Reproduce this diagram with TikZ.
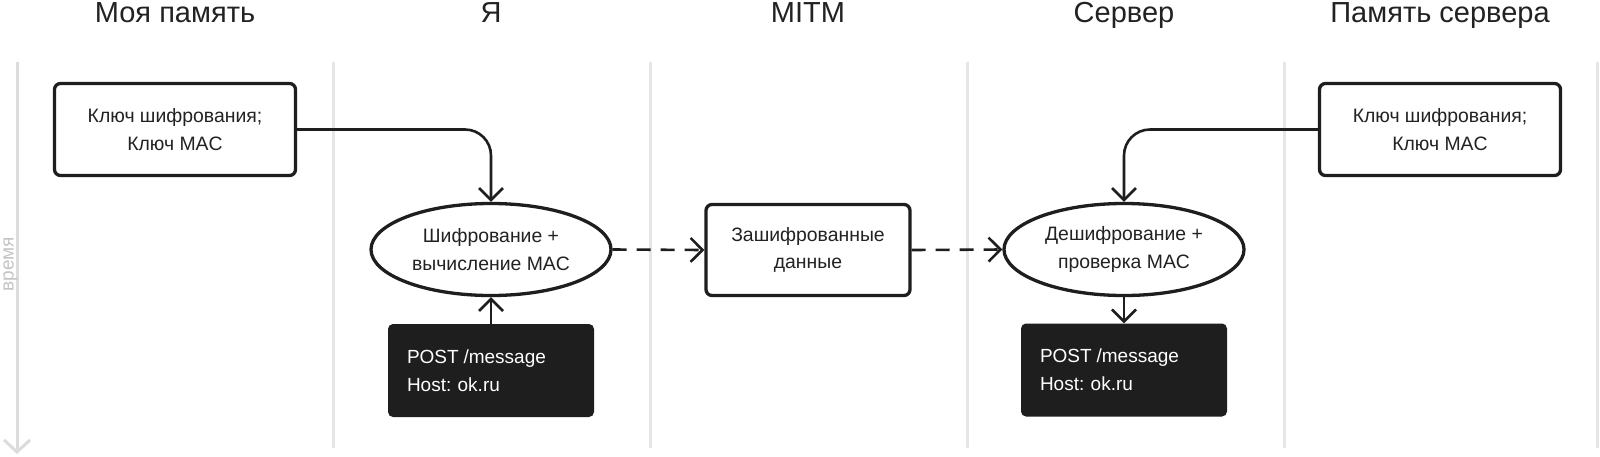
\documentclass[tikz,border=0pt]{standalone}
\usepackage{fontspec}
\setmainfont{Liberation Sans}
\usetikzlibrary{arrows.meta,shapes.geometric}
\definecolor{ink}{HTML}{1E1E1E}
\definecolor{txt}{HTML}{222222}
\definecolor{laneg}{HTML}{E6E6E6}
\definecolor{timeg}{HTML}{DCDCDC}
\definecolor{timetxt}{HTML}{C4C4C4}
\definecolor{blk}{HTML}{1E1E1E}
\newcommand{\bodyfont}{\fontsize{19.4}{27.5}\selectfont\frenchspacing}
\begin{document}
\begin{tikzpicture}[x=1pt,y=-1pt,
  lane/.style={draw=laneg, line width=3pt},
  hdr/.style={font=\fontsize{29}{34}\selectfont, text=txt, anchor=base, inner sep=0pt},
  keybox/.style={draw=ink, line width=3.3pt, rounded corners=6pt, minimum width=241pt, minimum height=92pt, align=center, font=\bodyfont, text=txt, inner sep=0pt},
  databox/.style={keybox, minimum width=204pt, minimum height=91pt},
  proc/.style={ellipse, draw=ink, line width=3.3pt, minimum width=240pt, minimum height=92pt, align=center, font=\bodyfont, text=txt, inner sep=0pt},
  msg/.style={fill=blk, rounded corners=5pt, minimum width=206pt, minimum height=93pt, text width=168pt, inner xsep=19pt, inner ysep=0pt, align=left, text=white, font=\fontsize{19}{28}\selectfont\frenchspacing},
  conn/.style={draw=ink, line width=2.6pt, -{Straight Barb[length=12pt,width=24pt]}},
  dconn/.style={conn, dash pattern=on 14pt off 10pt}
]
\useasboundingbox (0,0) rectangle (1600,456);
\fill[white] (0,0) rectangle (1600,456);

% lanes
\foreach \lx/\nm in {333/l1,650/l2,967/l3,1284/l4,1597/l5}{
  \coordinate (\nm t) at (\lx,62);
  \coordinate (\nm b) at (\lx,448);
  \draw[lane] (\nm t) -- (\nm b);
}
\coordinate (tt) at (17,62);
\coordinate (tb) at (17,454);
\draw[draw=timeg, line width=3pt, -{Straight Barb[length=12pt,width=26pt]}] (tt) -- (tb);
\node[rotate=90, anchor=base, inner sep=0pt, text=timetxt, font=\fontsize{19}{24}\selectfont] (time) at (13.5,264) {время};

% headers
\node[hdr] (h1) at (175,22) {Моя память};
\node[hdr] (h2) at (491,22) {Я};
\node[hdr] (h3) at (808,22) {MITM};
\node[hdr] (h4) at (1124,22) {Сервер};
\node[hdr] (h5) at (1440,22) {Память сервера};

% nodes
\node[keybox] (k1) at (175,129.5) {Ключ шифрования;\\Ключ MAC};
\node[keybox] (k2) at (1440,129.5) {Ключ шифрования;\\Ключ MAC};
\node[proc] (e1) at (491,249.5) {Шифрование +\\вычисление MAC};
\node[databox] (d) at (808,250) {Зашифрованные\\данные};
\node[proc] (e2) at (1124,249.5) {Дешифрование +\\проверка MAC};
\node[msg] (m1) at (491,370.5) {POST\kern-1.5pt{} /message\\Host: ok.ru};
\node[msg] (m2) at (1124,370) {POST\kern-1.5pt{} /message\\Host: ok.ru};

% connectors
\draw[conn, rounded corners=26pt] (k1.east) -| (e1.north);
\draw[conn, rounded corners=26pt] (k2.west) -| (e2.north);
\draw[dconn] (e1.east) -- (d.west);
\draw[dconn] (d.east) -- (e2.west);
\draw[conn] (m1.north) -- (e1.south);
\draw[conn] (e2.south) -- (m2.north);
\end{tikzpicture}
\end{document}
